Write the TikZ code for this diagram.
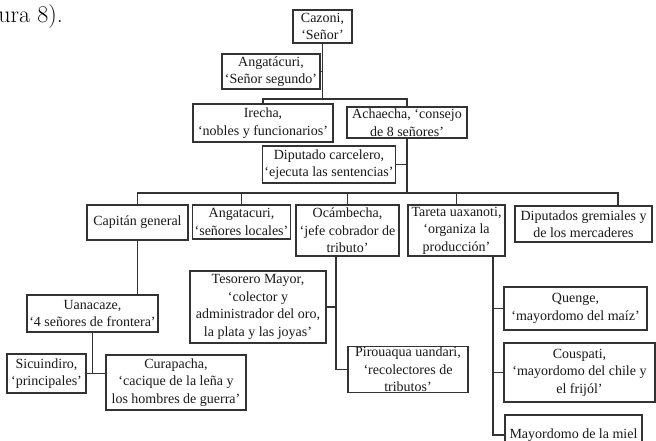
\documentclass[tikz,border=0pt]{standalone}
\usepackage{fontspec}
\newfontfamily\boxfont{Liberation Serif}
\usetikzlibrary{positioning, calc}

\begin{document}
\begin{tikzpicture}[
    x=1pt, y=-1pt,
    box/.style={
        rectangle, draw=black!80, line width=1.1pt,
        align=center, inner xsep=2pt, inner ysep=1pt,
        fill=white, text=black!90,
        font=\boxfont\fontsize{14}{17.5}\selectfont},
    conn/.style={draw=black!80, line width=1.1pt}]

\clip (0,0) rectangle (656,441);

\node[anchor=base east, inner sep=0pt, font=\fontsize{24}{28}\selectfont] (cita) at (63,23) {ura 8).};

% top of the hierarchy
\node[box, minimum width=59pt,  minimum height=33pt] (cazoni)   at (322.5,26.5) {Cazoni,\\‘Señor’};
\node[box, minimum width=98pt,  minimum height=35pt] (angat)    at (271,71.5)   {Angatácuri,\\‘Señor segundo’};
\node[box, minimum width=140pt, minimum height=38pt] (irecha)   at (263,123)    {Irecha,\\‘nobles y funcionarios’};
\node[box, minimum width=120pt, minimum height=31pt] (achaecha) at (407,122.5)  {Achaecha, ‘consejo\\de 8 señores’};
\node[box, minimum width=132pt, minimum height=37pt] (carcel)   at (329,164.5)  {Diputado carcelero,\\‘ejecuta las sentencias’};

% second row
\node[box, minimum width=101pt, minimum height=35pt] (capitan)  at (137.5,222.5) {Capitán general};
\node[box, minimum width=95pt,  minimum height=34pt] (locales)  at (241.5,222)   {Angatacuri,\\‘señores locales’};
\node[box, minimum width=103pt, minimum height=51pt] (ocamb)    at (347.5,230.5) {Ocámbecha,\\‘jefe cobrador de\\tributo’};
\node[box, minimum width=97pt,  minimum height=51pt] (tareta)   at (456.5,230.5) {Tareta uaxanoti,\\‘organiza la\\producción’};
\node[box, minimum width=137pt, minimum height=36pt] (gremial)  at (583.5,224)   {Diputados gremiales y\\de los mercaderes};

% under Capitan general
\node[box, minimum width=131pt, minimum height=37pt] (uanacaze)  at (92.5,313.5) {Uanacaze,\\‘4 señores de frontera’};
\node[box, minimum width=79pt,  minimum height=39pt] (sicu)      at (46.5,373.5) {Sicuindiro,\\‘principales’};
\node[box, minimum width=140pt, minimum height=55pt] (curapacha) at (176,382.5)  {Curapacha,\\‘cacique de la leña y\\los hombres de guerra’};

% under Ocambecha
\node[box, minimum width=136pt, minimum height=72pt] (tesorero)  at (258,307)   {Tesorero Mayor,\\‘colector y\\administrador del oro,\\la plata y las joyas’};
\node[box, minimum width=120pt, minimum height=45pt] (pirouaqua) at (408,369.5) {Pirouaqua uandari,\\‘recolectores de\\tributos’};

% under Tareta
\node[box, minimum width=143pt, minimum height=43pt] (quenge)   at (575.5,308.5) {Quenge,\\‘mayordomo del maíz’};
\node[box, minimum width=151pt, minimum height=59pt] (couspati) at (579.5,372.5) {Couspati,\\‘mayordomo del chile y\\el frijól’};
\node[box, minimum width=137pt, minimum height=40pt] (miel)     at (573.5,435)   {Mayordomo de la miel};

\coordinate (lvl1) at (0,99);
\coordinate (lvl2) at (0,193);
\coordinate (gremdrop) at ($(gremial.north)+(34.5,0)$);
\coordinate (ocline)   at ($(ocamb.south)+(-11.5,0)$);
\coordinate (taline)   at ($(tareta.south)+(36.5,0)$);

% upper levels
\draw[conn] (cazoni.south) -- (cazoni.south |- lvl1);
\draw[conn] (angat.east) -- (angat.east -| cazoni.south);
\draw[conn] (irecha.north) |- (achaecha.north |- lvl1) -- (achaecha.north);
\draw[conn] (achaecha.south) -- (achaecha.south |- lvl2);
\draw[conn] (carcel.east) -- (carcel.east -| achaecha.south);

% second row
\draw[conn] (capitan.north) |- (gremdrop |- lvl2) -- (gremdrop);
\foreach \n in {locales, ocamb, tareta}
    \draw[conn] (\n.north) -- (\n.north |- lvl2);

% branches below
\draw[conn] (capitan.south) -- (capitan.south |- uanacaze.north);
\draw[conn] (uanacaze.south) -- (uanacaze.south |- sicu.east);
\draw[conn] (sicu.east) -- (sicu.east -| curapacha.west);

\draw[conn] (ocline) |- (pirouaqua.west);
\draw[conn] (tesorero.east) -- (tesorero.east -| ocline);

\draw[conn] (taline) |- (miel.west);
\foreach \n in {quenge, couspati}
    \draw[conn] (\n.west) -- (\n.west -| taline);

\end{tikzpicture}
\end{document}
